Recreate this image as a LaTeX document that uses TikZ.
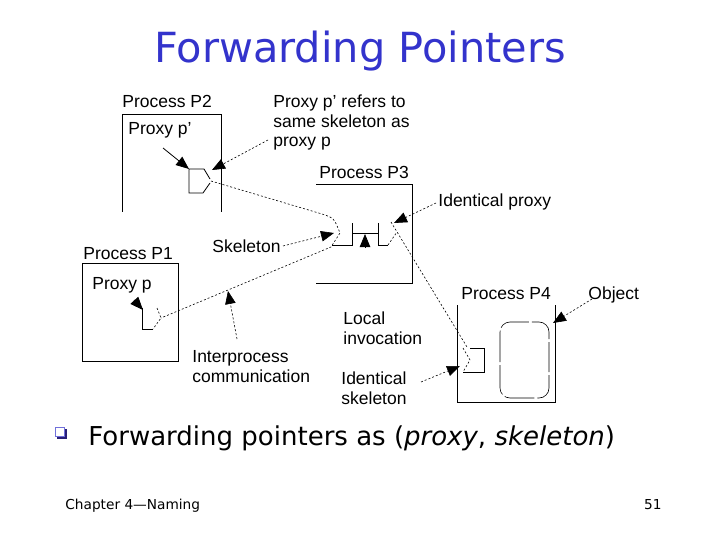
\documentclass[tikz,border=0pt]{standalone}
\usepackage{fontspec}
\setmainfont{Liberation Sans}
\newfontfamily\slidefont{DejaVu Sans}
\usetikzlibrary{arrows.meta}

\definecolor{titleblue}{RGB}{51,51,204}
\definecolor{bulletnavy}{RGB}{40,30,120}

\tikzset{
	lbl/.style={inner sep=0pt, anchor=base west, align=left, font=\fontsize{17.5}{19.5}\selectfont},
	ptr/.style={line width=0.6pt, dash pattern=on 2pt off 2pt},
	tip/.style={-{Triangle[length=13pt,width=10.5pt]}},
}

\begin{document}
\begin{tikzpicture}[x=1pt,y=-1pt,line width=0.8pt]
	\useasboundingbox (0,0) rectangle (720,540);

	% title
	\node[text=titleblue, font=\slidefont\fontsize{41.5}{45}\selectfont] (title) at (360,51) {Forwarding Pointers};

	% process P2
	\node[lbl] (p2) at (122,108) {Process P2};
	\draw (122,212) -- (122,114) -- (221,114) -- (221,212);
	\draw (210,179) -- (204,169) -- (189,169) -- (189,193) -- (203,193) -- (210,183);
	\coordinate (p2tip) at (211,181);
	\node[lbl] (pp) at (128,135) {Proxy p’};
	\node[lbl] (refers) at (273,147) {Proxy p’ refers to\\same skeleton as\\proxy p};

	% process P3
	\node[lbl] (p3) at (319,179) {Process P3};
	\draw (316,184) -- (412,184) -- (412,283) -- (316,283);
	\draw (332,245) -- (352,245) -- (352,223);
	\draw (352,233) -- (378,233);
	\draw (378,223) -- (378,245) -- (388,245);
	\coordinate (sklin) at (331,247);
	\coordinate (skout) at (391,222);
	\draw[ptr] (388,245) -- (397,232);
	\draw[tip] (365,247) -- (365,234);
	\node[lbl] (idproxy) at (438,207) {Identical proxy};
	\node[lbl] (skel) at (212,252) {Skeleton};

	% process P1
	\node[lbl] (p1) at (83,259) {Process P1};
	\draw (82,263) rectangle (178,361);
	\draw (142,308) -- (142,329) -- (153,329);
	\coordinate (p1tip) at (161,318);
	\draw[ptr] (157,308) -- (p1tip) -- (153,329);
	\node[lbl] (p) at (92,289) {Proxy p};
	\node[lbl] (ipc) at (192,382) {Interprocess\\communication};

	% process P4
	\node[lbl] (p4) at (461,299) {Process P4};
	\draw (457,305) -- (457,402) -- (555,402) -- (555,305);
	\draw (470,348) -- (484,348) -- (484,372) -- (463,372);
	\draw[ptr] (463,348) -- (470,360) -- (463,372);
	\coordinate (p4tip) at (467,347);
	\draw[line width=0.6pt, dash pattern=on 30pt off 3pt, rounded corners=10pt] (500,322) rectangle (549,398);
	\node[lbl] (obj) at (588,299) {Object};
	\node[lbl] (local) at (343,344) {Local\\invocation};
	\node[lbl] (idskel) at (341,404) {Identical\\skeleton};

	% forwarding chain
	\draw[ptr] (p2tip) -- (322,214) .. controls (334,218) .. (340,233) -- (sklin) -- (p1tip);
	\draw[ptr] (skout) -- (p4tip);

	% annotations
	\draw[tip] (163,148) -- (189,169);
	\draw[ptr,tip] (268,140) -- (212,170);
	\draw[ptr,tip] (436,203) -- (394,223);
	\draw[ptr,tip] (283,246) -- (334,233);
	\draw[tip] (134,300) -- (143,310);
	\draw[ptr,tip] (237,339) -- (228,291);
	\draw[ptr,tip] (592,299) -- (553,323);
	\draw[ptr,tip] (421,382) -- (460,366);

	% bullet
	\fill[bulletnavy] (57,429) rectangle (67,439);
	\draw[titleblue!70, line width=0.8pt, fill=white] (55.5,427.5) rectangle (64.5,436.5);
	\node[inner sep=0pt, anchor=base west, font=\slidefont\fontsize{26}{29}\selectfont] (point) at (88,445) {Forwarding pointers as (\textit{proxy}, \textit{skeleton})};

	% footer
	\node[inner sep=0pt, anchor=base west, font=\slidefont\fontsize{13.7}{16}\selectfont] (chap) at (65,509) {Chapter 4—Naming};
	\node[inner sep=0pt, anchor=base east, font=\slidefont\fontsize{13.7}{16}\selectfont] (pg) at (662,509) {51};

\end{tikzpicture}
\end{document}
